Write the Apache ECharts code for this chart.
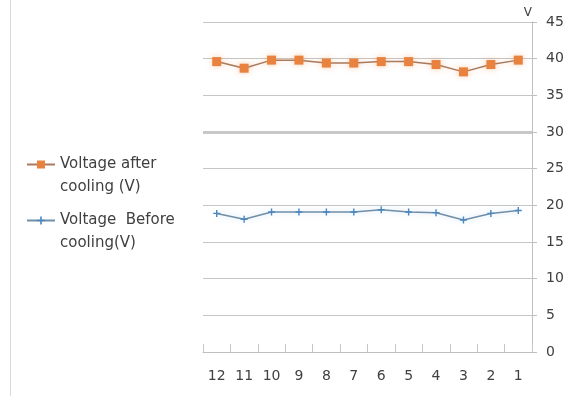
<!DOCTYPE html>
<html>
<head>
<meta charset="utf-8">
<script src="https://cdn.jsdelivr.net/npm/echarts@6/dist/echarts.min.js"></script>
<style>
  html, body { margin: 0; padding: 0; background: #fff; }
  #chart { width: 570px; height: 396px; }
</style>
</head>
<body>
<div id="chart"></div>
<script>
// Sample numbers, shown from 12 down to 1
const categories = ['12', '11', '10', '9', '8', '7', '6', '5', '4', '3', '2', '1'];
// Voltage after cooling (V)
const voltageAfter = [39.6, 38.7, 39.8, 39.8, 39.4, 39.4, 39.6, 39.6, 39.2, 38.2, 39.2, 39.8];
// Voltage before cooling (V)
const voltageBefore = [18.9, 18.1, 19.1, 19.1, 19.1, 19.1, 19.4, 19.1, 19.0, 18.0, 18.9, 19.3];
const yTicks = [0, 5, 10, 15, 20, 25, 30, 35, 40, 45];

const nameAfter = 'Voltage after cooling (V)';
const nameBefore = 'Voltage  Before cooling(V)';
// A blank first line keeps the legend icon level with the first text line
const legendText = {};
legendText[nameAfter] = ' \nVoltage after\ncooling (V)';
legendText[nameBefore] = ' \nVoltage  Before\ncooling(V)';

const font = 'DejaVu Sans';
const chart = echarts.init(document.getElementById('chart'), null, { renderer: 'canvas' });

const legendBase = {
  orient: 'vertical',
  left: 26,
  padding: 0,
  itemWidth: 28,
  itemHeight: 10,
  formatter: n => legendText[n],
  textStyle: { fontFamily: font, fontSize: 15, color: '#404040', lineHeight: 23 }
};

chart.setOption({
  animation: false,
  backgroundColor: '#fff',
  grid: { left: 203, right: 38, top: 22, bottom: 44 },
  legend: [
    Object.assign({}, legendBase, { top: 130, data: [nameAfter] }),
    Object.assign({}, legendBase, { top: 186, data: [nameBefore] })
  ],
  graphic: [{
    type: 'line',
    shape: { x1: 10.5, y1: 0, x2: 10.5, y2: 396 },
    style: { stroke: '#d9d9d9', lineWidth: 1 },
    silent: true
  }],
  xAxis: {
    type: 'category',
    data: categories,
    boundaryGap: true,
    axisLine: { lineStyle: { color: '#bfbfbf', width: 1 } },
    axisTick: { show: true, inside: true, length: 8, lineStyle: { color: '#c6c6c6' } },
    axisLabel: { fontFamily: font, fontSize: 14, color: '#404040', margin: 17 },
    splitLine: { show: false }
  },
  yAxis: {
    type: 'value',
    position: 'right',
    min: yTicks[0],
    max: yTicks[yTicks.length - 1],
    interval: 5,
    name: 'V',
    nameLocation: 'end',
    nameGap: 3,
    nameTextStyle: { fontFamily: font, fontSize: 12, color: '#404040', align: 'right' },
    axisLine: { show: true, lineStyle: { color: '#bfbfbf', width: 1 } },
    axisTick: { show: true, length: 5, lineStyle: { color: '#bfbfbf' } },
    axisLabel: { fontFamily: font, fontSize: 14, color: '#404040', margin: 14 },
    splitLine: { show: true, lineStyle: { color: '#c6c6c6', width: 1 } }
  },
  series: [
    {
      name: nameAfter,
      type: 'line',
      data: voltageAfter,
      symbol: 'rect',
      symbolSize: 9,
      itemStyle: { color: '#e8823e', shadowColor: 'rgba(237,125,49,0.35)', shadowBlur: 6 },
      lineStyle: { color: '#a97a5c', width: 1.5, shadowColor: 'rgba(237,125,49,0.3)', shadowBlur: 6 },
      markLine: {
        silent: true,
        symbol: 'none',
        label: { show: false },
        lineStyle: { color: '#c8c8c8', width: 3, type: 'solid' },
        data: [{ yAxis: 30 }]
      }
    },
    {
      name: nameBefore,
      type: 'line',
      data: voltageBefore,
      symbol: 'path://M4,0 L6,0 L6,4 L10,4 L10,6 L6,6 L6,10 L4,10 L4,6 L0,6 L0,4 L4,4 Z',
      symbolSize: 7,
      itemStyle: { color: '#4a86c0' },
      lineStyle: { color: '#6f8ea8', width: 1.5, shadowColor: 'rgba(91,155,213,0.35)', shadowBlur: 6 }
    }
  ]
});
</script>
</body>
</html>
